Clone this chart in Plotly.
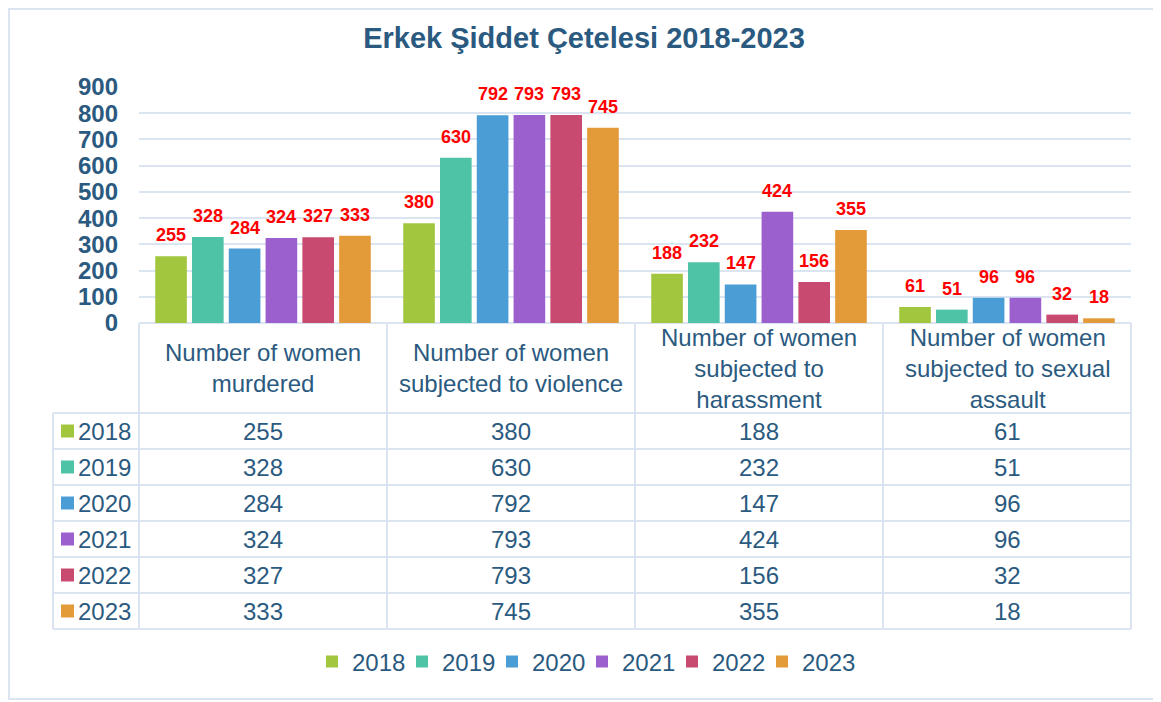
import plotly.graph_objects as go

# ---------------- data ----------------
categories = [
    "Number of women murdered",
    "Number of women subjected to violence",
    "Number of women subjected to harassment",
    "Number of women subjected to sexual assault",
]
header_labels = [
    "Number of women<br>murdered",
    "Number of women<br>subjected to violence",
    "Number of women<br>subjected to<br>harassment",
    "Number of women<br>subjected to sexual<br>assault",
]
years = ["2018", "2019", "2020", "2021", "2022", "2023"]
v2018 = [255, 380, 188, 61]
v2019 = [328, 630, 232, 51]
v2020 = [284, 792, 147, 96]
v2021 = [324, 793, 424, 96]
v2022 = [327, 793, 156, 32]
v2023 = [333, 745, 355, 18]
series = [v2018, v2019, v2020, v2021, v2022, v2023]
y_ticks = [0, 100, 200, 300, 400, 500, 600, 700, 800, 900]
title_text = "Erkek Şiddet Çetelesi 2018-2023"

# ---------------- style ----------------
colors = ["#A2C63E", "#4EC3A5", "#4A9ED5", "#9B60CE", "#C84A70", "#E39B3A"]
txt = "#2B5A80"
grid = "#DAE5F1"
red = "#FF0000"
FONT = "Liberation Sans, Arial, sans-serif"

OFF = 8  # page body margin: design in page pixels, shift into figure pixels
W, H = 1161 - OFF, 702 - OFF
L, R, T, B = 139, 1131, 87, 323          # plot area in page pixels
HEADER_H, ROW_H = 90, 36
YEAR_COL_L = 53
BARGAP, GROUPGAP = 0.11, 0.14
TABLE_FS = 24


def xp(px):
    return (px - L) / (R - L)


def yp(py):
    return (B - py) / (B - T)


fig = go.Figure()
for idx, (yr, vals, col) in enumerate(zip(years, series, colors)):
    extra = dict(legendwidth=56) if idx == len(years) - 1 else {}
    fig.add_trace(go.Bar(name=yr, x=categories, y=vals,
                         marker=dict(color=col, line=dict(width=0)), **extra))

annotations = []
shapes = []

# data labels over bars
cat_w = (R - L) / len(categories)
slot = cat_w * (1 - BARGAP) / len(years)
for i, vals in enumerate(series):
    for c, v in zip(categories, vals):
        annotations.append(dict(
            x=c, y=v, xref="x", yref="y", text="<b>%d</b>" % v, showarrow=False,
            xshift=(i - (len(years) - 1) / 2) * slot, yshift=9, yanchor="bottom",
            font=dict(family=FONT, size=18, color=red)))

# table grid
col_edges = [L + k * cat_w for k in range(len(categories) + 1)]
table_bottom = B + HEADER_H + ROW_H * len(years)
row_tops = [B + HEADER_H + k * ROW_H for k in range(len(years) + 1)]


def line(x0, y0, x1, y1):
    shapes.append(dict(type="line", xref="paper", yref="paper",
                       x0=xp(x0), y0=yp(y0), x1=xp(x1), y1=yp(y1),
                       line=dict(color=grid, width=2), layer="below"))


line(L, B, R, B)
for ry in row_tops:
    line(YEAR_COL_L, ry, R, ry)
for cx in col_edges:
    line(cx, B, cx, table_bottom)
line(YEAR_COL_L, row_tops[0], YEAR_COL_L, table_bottom)

# header texts
for k, lab in enumerate(header_labels):
    annotations.append(dict(
        x=xp((col_edges[k] + col_edges[k + 1]) / 2), y=yp(B + HEADER_H / 2),
        xref="paper", yref="paper", text=lab, showarrow=False,
        xanchor="center", yanchor="middle",
        font=dict(family=FONT, size=TABLE_FS, color=txt)))

# row labels, keys and values
for r, (yr, vals, col) in enumerate(zip(years, series, colors)):
    cy = row_tops[r] + ROW_H / 2
    shapes.append(dict(type="rect", xref="paper", yref="paper",
                       x0=xp(61), x1=xp(74), y0=yp(cy - 6.5), y1=yp(cy + 6.5),
                       fillcolor=col, line=dict(width=0)))
    annotations.append(dict(
        x=xp(76), y=yp(cy), xref="paper", yref="paper", text=yr, showarrow=False,
        xanchor="left", yanchor="middle", font=dict(family=FONT, size=TABLE_FS, color=txt)))
    for k, v in enumerate(vals):
        annotations.append(dict(
            x=xp((col_edges[k] + col_edges[k + 1]) / 2), y=yp(cy),
            xref="paper", yref="paper", text=str(v), showarrow=False,
            xanchor="center", yanchor="middle",
            font=dict(family=FONT, size=TABLE_FS, color=txt)))

# outer border
shapes.append(dict(type="rect", xref="paper", yref="paper",
                   x0=xp(OFF + 1), x1=xp(1159), y0=yp(OFF + 1), y1=yp(699),
                   line=dict(color=grid, width=2), layer="below"))

fig.update_layout(
    width=W, height=H,
    margin=dict(l=L - OFF, r=W - (R - OFF), t=T - OFF, b=H - (B - OFF), autoexpand=False),
    paper_bgcolor="white", plot_bgcolor="white",
    barmode="group", bargap=BARGAP, bargroupgap=GROUPGAP,
    title=dict(text="<b>%s</b>" % title_text, x=(584 - OFF) / W, y=1 - (38 - OFF) / H,
               xref="container", yref="container", xanchor="center", yanchor="middle",
               font=dict(family=FONT, size=29, color=txt)),
    xaxis=dict(showticklabels=False, showgrid=False, zeroline=False, showline=False, ticks=""),
    yaxis=dict(range=[0, 900], tickvals=y_ticks, ticktext=[str(t) for t in y_ticks],
               showgrid=True, gridcolor=grid, gridwidth=2, zeroline=False, showline=False,
               ticks="", ticklabelstandoff=20,
               tickfont=dict(family=FONT, size=24, color=txt, weight="bold")),
    showlegend=True,
    legend=dict(orientation="h", x=xp(587.5), y=yp(662), xanchor="center", yanchor="middle",
                font=dict(family=FONT, size=TABLE_FS, color=txt), traceorder="normal",
                itemwidth=30, entrywidth=45, entrywidthmode="pixels"),
    annotations=annotations, shapes=shapes,
    hovermode=False,
)

fig.write_html("out.html")
